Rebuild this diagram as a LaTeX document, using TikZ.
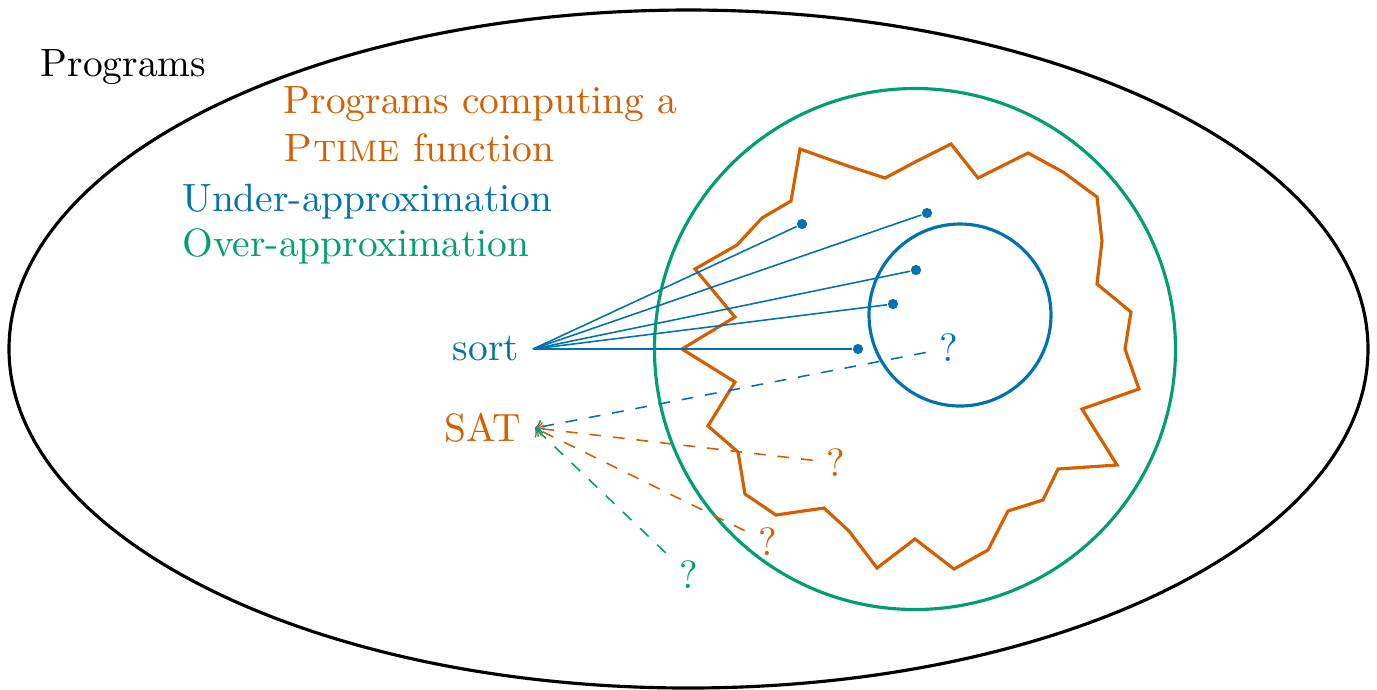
\documentclass[tikz,border=0pt]{standalone}
\definecolor{ptblue}{RGB}{0,114,178}
\definecolor{ptorange}{RGB}{213,94,0}
\definecolor{ptgreen}{RGB}{0,158,115}
\begin{document}
\begin{tikzpicture}[x=0.2535pt, y=-0.2535pt,
        dot/.style={circle, fill=ptblue, inner sep=0pt, minimum size=2.6pt},
        query/.style={dashed, ->}]
        \useasboundingbox (0,0) rectangle (1377,689);
        \draw[thick] (688.5,349) ellipse [x radius=679.5, y radius=339];
        \draw[thick, ptgreen] (915,349) circle [radius=260.5];
        \draw[thick, ptblue] (960,315) circle [radius=91];
        \draw[thick, ptorange] (800,149) -- (848,166) -- (885,178) -- (917,161)
            -- (951,144) -- (978,178) -- (1028,153) -- (1063,172) -- (1097,197)
            -- (1102,241) -- (1097,284) -- (1131,312) -- (1125,349) -- (1139,389)
            -- (1082,409) -- (1117,465) -- (1058,469) -- (1043,500) -- (1008,511)
            -- (988,550) -- (954,569) -- (915,539) -- (877,568) -- (849,531)
            -- (824,508) -- (776,515) -- (745,494) -- (738,452) -- (708,426)
            -- (735,382) -- (682,349) -- (735,317) -- (695,269) -- (737,245)
            -- (762,218) -- (791,201) -- cycle;
        \node[anchor=base west] (programs) at (27,76) {Programs};
        \node[ptorange, anchor=north west, align=left] (ptime) at (270,73)
            {Programs computing a\\\textsc{Ptime} function};
        \node[ptblue, anchor=base west] (under) at (168.5,211.7) {Under-approximation};
        \node[ptgreen, anchor=base west] (over) at (168.5,256.7) {Over-approximation};
        \node[ptblue, anchor=east] (sort) at (533,349) {sort};
        \node[ptorange, anchor=east] (sat) at (535,428) {SAT};
        \node[dot] (d1) at (802,224) {};
        \node[dot] (d2) at (927,213) {};
        \node[dot] (d3) at (916,270) {};
        \node[dot] (d4) at (893,304) {};
        \node[dot] (d5) at (858,349) {};
        \foreach \d in {d1,d2,d3,d4,d5}
            \draw[ptblue] (sort.east) -- (\d);
        \node[ptblue] (qa) at (949,348) {?};
        \node[ptorange] (qb) at (836,463) {?};
        \node[ptorange] (qc) at (768,542) {?};
        \node[ptgreen] (qd) at (689,575) {?};
        \draw[ptblue, query] (qa) -- (sat.east);
        \draw[ptorange, query] (qb) -- (sat.east);
        \draw[ptorange, query] (qc) -- (sat.east);
        \draw[ptgreen, query] (qd) -- (sat.east);
\end{tikzpicture}
\end{document}
